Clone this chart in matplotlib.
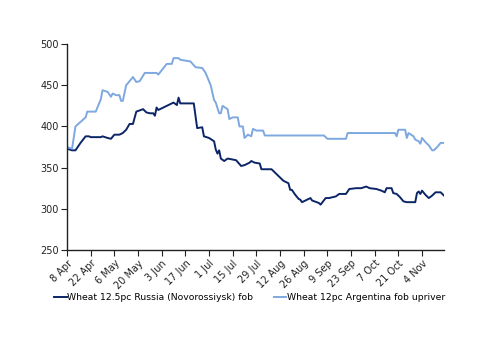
import matplotlib
matplotlib.use('Agg')
import matplotlib.pyplot as plt

# Wheat export prices, $/t, days counted from 8 Apr

russia_day = [0, 3, 5, 8, 11, 13, 14, 20, 21, 24, 26, 28, 31, 33, 35, 37, 39, 41, 45, 47, 49,
              51, 52, 53, 54, 57, 61, 63, 65, 66, 67, 75, 77, 80, 81, 84, 87, 88, 89, 90, 91,
              93, 95, 100, 103, 105, 108, 109, 111, 114, 115, 121, 123, 125, 128, 131, 132,
              133, 135, 137, 138, 139, 141, 144, 145, 149, 150, 153, 155, 159, 161, 165, 167,
              171, 174, 177, 179, 183, 186, 188, 189, 192, 193, 195, 197, 199, 201, 203, 206,
              207, 208, 209, 210, 212, 214, 216, 218, 221, 223]
russia_val = [373, 371, 371, 380, 388, 388, 387, 387, 388, 386, 385, 390, 390, 392, 396, 403, 403,
              418, 421, 417, 416, 416, 413, 423, 420, 423, 427, 429, 426, 435, 428, 428, 398, 399,
              388, 386, 382, 372, 367, 371, 361, 358, 361, 359, 352, 353, 356, 358, 356, 355, 348,
              348, 344, 340, 334, 331, 323, 323, 317, 312, 311, 308, 310, 313, 310, 307, 305, 313,
              313, 315, 318, 318, 324, 325, 325, 327, 325, 324, 322, 320, 325, 325, 319, 318, 314,
              309, 308, 308, 308, 319, 321, 318, 322, 317, 313, 316, 320, 320, 316]

argentina_day = [0, 3, 5, 11, 12, 17, 20, 21, 24, 26, 27, 29, 31, 32, 33, 35, 39, 41, 43, 46, 53,
                 54, 59, 62, 63, 66, 67, 73, 76, 80, 82, 85, 87, 88, 90, 91, 92, 95, 96, 98, 101,
                 102, 104, 105, 107, 109, 110, 112, 116, 117, 152, 154, 165, 166, 194, 195, 196,
                 200, 201, 202, 205, 206, 208, 209, 210, 212, 214, 216, 217, 219, 221, 223]
argentina_val = [375, 373, 400, 411, 418, 418, 433, 444, 442, 436, 440, 438, 438, 431, 431, 450,
                 460, 454, 455, 465, 465, 463, 476, 476, 483, 483, 481, 479, 472, 471, 465, 450,
                 432, 429, 416, 416, 425, 421, 409, 411, 411, 400, 400, 386, 390, 388, 397, 395,
                 395, 389, 389, 385, 385, 392, 392, 388, 396, 396, 386, 392, 388, 384, 382, 379,
                 386, 381, 377, 371, 371, 375, 380, 380]

tick_days = [0, 14, 28, 42, 56, 70, 84, 98, 112, 126, 140, 154, 168, 182, 196, 210]
tick_labels = ['8 Apr', '22 Apr', '6 May', '20 May', '3 Jun', '17 Jun', '1 Jul', '15 Jul',
               '29 Jul', '12 Aug', '26 Aug', '9 Sep', '23 Sep', '7 Oct', '21 Oct', '4 Nov']

plt.rcParams['font.family'] = 'DejaVu Sans'
plt.rcParams['font.size'] = 7

fig = plt.figure(figsize=(5.0, 3.53), dpi=100)
ax = fig.add_axes([0.134, 0.292, 0.754, 0.583])

ax.plot(russia_day, russia_val, color='#0b2567', lw=1.4,
        label='Wheat 12.5pc Russia (Novorossiysk) fob')
ax.plot(argentina_day, argentina_val, color='#7ea8e0', lw=1.4,
        label='Wheat 12pc Argentina fob upriver')

ax.set_xlim(0, 223)
ax.set_ylim(250, 500)
ax.set_yticks([250, 300, 350, 400, 450, 500])
ax.set_xticks(tick_days)
ax.set_xticklabels(tick_labels, rotation=45, ha='right', rotation_mode='anchor')

for s in ['top', 'right']:
    ax.spines[s].set_visible(False)
for s in ['left', 'bottom']:
    ax.spines[s].set_color('#222222')
    ax.spines[s].set_linewidth(1.0)
ax.tick_params(axis='both', direction='out', length=4, width=0.8, color='#222222',
               labelcolor='#222222', pad=2)

ax.legend(loc='upper center', bbox_to_anchor=(0.485, -0.17), ncol=2, frameon=False,
          handlelength=1.3, handletextpad=0.1, columnspacing=2.2, fontsize=6.7)

fig.savefig('out.png', dpi=100, facecolor='white')
